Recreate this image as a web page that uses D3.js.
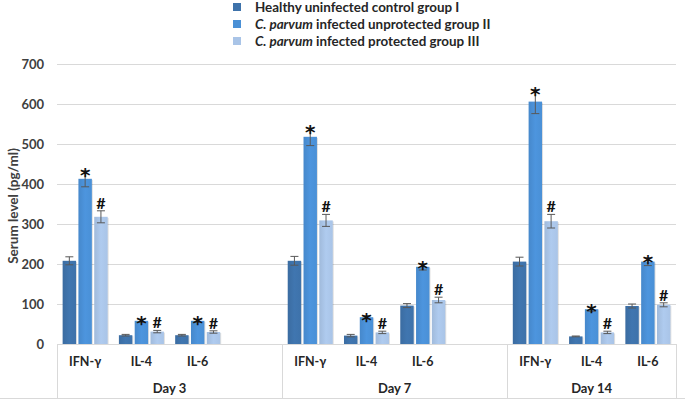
<!DOCTYPE html>
<html><head><meta charset="utf-8">
<script src="https://cdn.jsdelivr.net/npm/d3@7"></script>
<style>body{margin:0;background:#fff}svg{display:block;font-family:Lato,"Liberation Sans",sans-serif}</style>
</head><body>
<svg id="c" width="685" height="405"></svg>
<script>
const days = ["Day 3", "Day 7", "Day 14"];
const cytokines = ["IFN-γ", "IL-4", "IL-6"];
const seriesNames = ["Healthy uninfected control group I", "C. parvum infected unprotected group II", "C. parvum infected protected group III"];
// values per series, ordered Day3(IFN,IL4,IL6), Day7(...), Day14(...)
const group1 = [208, 22, 22, 208, 21, 96, 206, 19, 95];
const group2 = [413, 58, 58, 518, 67, 193, 606, 87, 206];
const group3 = [318, 31, 30, 309, 29, 110, 307, 29, 98];
const err1 = [10, 2, 2, 11, 3, 5, 11, 1, 5];
const err2 = [20, 4, 4, 22, 4, 8, 30, 5, 10];
const err3 = [15, 3, 3, 15, 3, 7, 17, 3, 5];
const markers = ["", "*", "#"];
const yTicks = [0, 100, 200, 300, 400, 500, 600, 700];
const colors = ["#3e72aa", "#4a90d6", "#a9c4e7"];

const svg = d3.select("#c");
const pLeft = 57, pRight = 676, pTop = 64, pBottom = 344;

// slots: each day has its 3 cytokines, days 3 and 7 followed by an empty slot
const slots = [];
days.forEach((d, di) => {
  cytokines.forEach(c => slots.push(d + "|" + c));
  if (di < days.length - 1) slots.push(d + "|blank");
});

const x0 = d3.scaleBand().domain(slots).range([pLeft, pRight]).paddingInner(0.2).paddingOuter(0.1);
const x1 = d3.scaleBand().domain([0, 1, 2]).range([0, x0.bandwidth()]).paddingInner(0.15);
const y = d3.scaleLinear().domain([0, 700]).range([pBottom, pTop]);

const defs = svg.append("defs");
colors.forEach((c, i) => {
  const g = defs.append("linearGradient").attr("id", "g" + i).attr("x1", 0).attr("x2", 1).attr("y1", 0).attr("y2", 0);
  g.append("stop").attr("offset", "0%").attr("stop-color", d3.color(c).darker(0.15));
  g.append("stop").attr("offset", "50%").attr("stop-color", d3.color(c).brighter(0.1));
  g.append("stop").attr("offset", "100%").attr("stop-color", c);
});

// gridlines
svg.append("g").selectAll("line").data(yTicks.filter(t => t > 0)).join("line")
  .attr("x1", pLeft).attr("x2", pRight).attr("y1", d => Math.round(y(d)) + 0.5).attr("y2", d => Math.round(y(d)) + 0.5)
  .attr("stroke", "#d9d9d9").attr("stroke-width", 1);

// y axis tick labels
const yAxis = d3.axisLeft(y).tickValues(yTicks).tickSize(0).tickPadding(13);
const ya = svg.append("g").attr("transform", `translate(${pLeft},0)`).call(yAxis);
ya.select(".domain").remove();
ya.selectAll("text").attr("font-family", "Lato, 'Liberation Sans', sans-serif").attr("font-size", 13).attr("font-weight", "bold").attr("fill", "#404040");

svg.append("text").attr("transform", `translate(18,${(pTop + pBottom) / 2 + 2}) rotate(-90)`)
  .attr("text-anchor", "middle").attr("font-size", 13.5).attr("font-weight", "bold").attr("fill", "#404040")
  .text("Serum level (pg/ml)");

// x axis structure
const axisG = svg.append("g").attr("stroke", "#d9d9d9");
axisG.append("line").attr("x1", pLeft).attr("x2", pRight).attr("y1", pBottom + 0.5).attr("y2", pBottom + 0.5);
const step = x0.step();
const dayStarts = [];
let idx = 0;
days.forEach((d, di) => {
  const n = cytokines.length + (di < days.length - 1 ? 1 : 0);
  dayStarts.push({ d, start: idx, n });
  idx += n;
});
const boundary = i => pLeft + i * step;
[0, 4, 8, 11].forEach(i => {
  axisG.append("line").attr("x1", Math.round(boundary(i)) + 0.5).attr("x2", Math.round(boundary(i)) + 0.5)
    .attr("y1", pBottom).attr("y2", 398);
});
axisG.append("line").attr("x1", 0).attr("x2", 685).attr("y1", 398.5).attr("y2", 398.5);

// category labels
slots.forEach(s => {
  const [d, c] = s.split("|");
  if (c === "blank") return;
  svg.append("text").attr("x", x0(s) + x0.bandwidth() / 2).attr("y", 366)
    .attr("text-anchor", "middle").attr("font-size", 12.5).attr("font-weight", "bold").attr("fill", "#262626").text(c);
});
dayStarts.forEach(ds => {
  const cx = (boundary(ds.start) + boundary(ds.start + ds.n)) / 2;
  svg.append("text").attr("x", cx).attr("y", 393)
    .attr("text-anchor", "middle").attr("font-size", 13).attr("font-weight", "bold").attr("fill", "#262626").text(ds.d);
});

// bars
const valueSets = [group1, group2, group3];
const errSets = [err1, err2, err3];
const dataSlots = slots.filter(s => !s.endsWith("blank"));
const barsG = svg.append("g");
valueSets.forEach((vals, si) => {
  vals.forEach((v, i) => {
    const bx = x0(dataSlots[i]) + x1(si);
    const bw = x1.bandwidth();
    barsG.append("rect").attr("x", bx + 1).attr("y", y(v) + 1).attr("width", bw).attr("height", pBottom - y(v) - 1)
      .attr("fill", "#000").attr("opacity", 0.12);
    barsG.append("rect").attr("x", bx).attr("y", y(v)).attr("width", bw).attr("height", pBottom - y(v))
      .attr("fill", `url(#g${si})`);
    const e = errSets[si][i];
    const cx = bx + bw / 2;
    const eg = barsG.append("g").attr("stroke", "#595959").attr("stroke-width", 1);
    eg.append("line").attr("x1", cx).attr("x2", cx).attr("y1", y(v + e)).attr("y2", y(v - e));
    eg.append("line").attr("x1", cx - 4).attr("x2", cx + 4).attr("y1", y(v + e)).attr("y2", y(v + e));
    eg.append("line").attr("x1", cx - 4).attr("x2", cx + 4).attr("y1", y(v - e)).attr("y2", y(v - e));
    const m = markers[si];
    if (m === "*") {
      barsG.append("text").attr("x", cx).attr("y", y(v + e) + 11).attr("text-anchor", "middle")
        .attr("font-size", 20).attr("font-weight", "bold").attr("font-family", "'DejaVu Sans', sans-serif").attr("fill", "#111").text("*");
    } else if (m === "#") {
      barsG.append("text").attr("x", cx).attr("y", y(v + e) - 2).attr("text-anchor", "middle")
        .attr("font-size", 16).attr("font-weight", "bold").attr("fill", "#111").text("#");
    }
  });
});

// legend
const lg = svg.append("g").attr("transform", "translate(233,0)");
seriesNames.forEach((name, i) => {
  const yy = 7 + i * 17;
  lg.append("rect").attr("x", 0).attr("y", yy - 4).attr("width", 8).attr("height", 8).attr("fill", colors[i]);
  const t = lg.append("text").attr("x", 22).attr("y", yy + 4.5).attr("font-size", 13.4).attr("font-weight", "bold").attr("fill", "#262626");
  if (name.startsWith("C. parvum")) {
    t.append("tspan").attr("font-style", "italic").text("C. parvum");
    t.append("tspan").text(name.slice(9));
  } else t.text(name);
});
</script>
</body></html>
